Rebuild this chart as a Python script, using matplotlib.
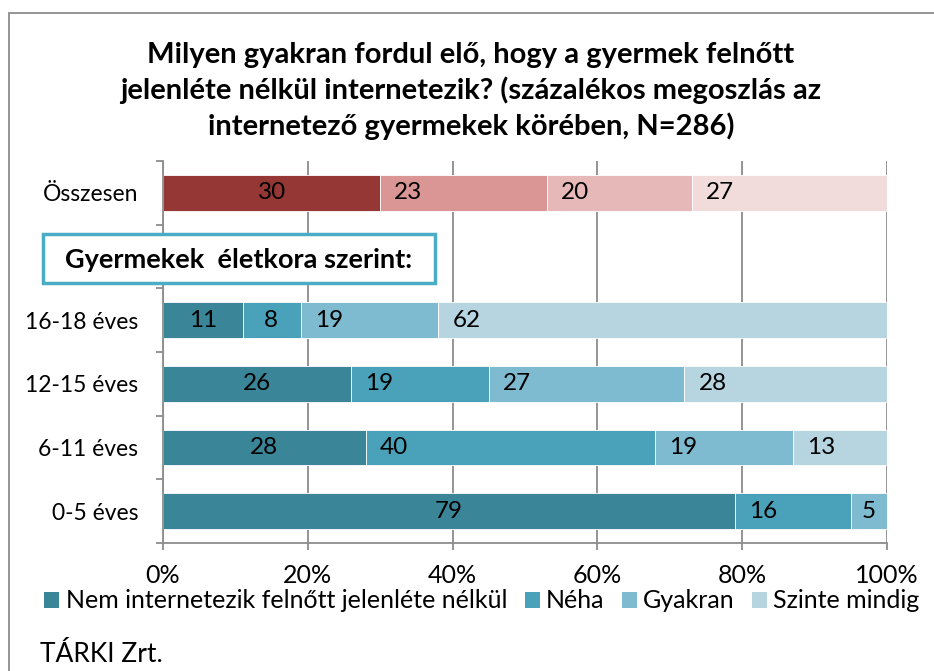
import matplotlib
matplotlib.use('Agg')
import matplotlib.pyplot as plt
from matplotlib.patches import Rectangle

plt.rcParams['font.family'] = ['Lato', 'DejaVu Sans']

# data
categories = ['Összesen', '', '16-18 éves', '12-15 éves', '6-11 éves', '0-5 éves']
series_names = ['Nem internetezik felnőtt jelenléte nélkül', 'Néha', 'Gyakran', 'Szinte mindig']
total_values = [30, 23, 20, 27]
nem_values = [11, 26, 28, 79]
neha_values = [8, 19, 40, 16]
gyakran_values = [19, 27, 19, 5]
szinte_values = [62, 28, 13, 0]
xtick_labels = ['0%', '20%', '40%', '60%', '80%', '100%']

teal_colors = ['#3A8598', '#4AA2BA', '#7EBAD0', '#B7D5E1']
red_colors = ['#953735', '#D99694', '#E6B9B8', '#F2DCDB']

fig = plt.figure(figsize=(9.34, 6.71), dpi=100)
ax = fig.add_axes([163/934, 1 - 543/671, (887 - 163)/934, (543 - 161)/671])

ypos = [5, 4, 3, 2, 1, 0]
bar_h = 0.56
label_off = 3.9


def draw_row(y, vals, colors):
    left = 0
    for i, (v, c) in enumerate(zip(vals, colors)):
        if v > 0:
            ax.barh(y, v, left=left, height=bar_h, color=c, edgecolor='white', linewidth=0.6, zorder=2)
            if i == 0:
                xl = left + v / 2
            else:
                xl = left + min(v / 2, label_off)
            ax.text(xl, y, str(v), ha='center', va='center', fontsize=17.5, color='black', zorder=3)
        left += v


draw_row(ypos[0], total_values, red_colors)
teal_rows = list(zip(nem_values, neha_values, gyakran_values, szinte_values))
for y, vals in zip(ypos[2:], teal_rows):
    draw_row(y, vals, teal_colors)

# legend handles
for name, c in zip(series_names, teal_colors):
    ax.barh([0], [0], color=c, label=name)

ax.set_xlim(0, 100)
ax.set_ylim(-0.5, 5.5)
ax.set_xticks([0, 20, 40, 60, 80, 100])
ax.set_xticklabels(xtick_labels, fontsize=18)
ax.set_yticks(ypos)
ax.set_yticklabels(categories, fontsize=16.5)
ax.set_yticks([y + 0.5 for y in range(-1, 6)], minor=True)
ax.tick_params(axis='y', which='major', length=0, pad=18)
ax.tick_params(axis='y', which='minor', length=5, color='#8C8C8C', width=1.3, direction='out')
ax.tick_params(axis='x', length=5, color='#8C8C8C', width=1.3, direction='out', pad=10)
ax.grid(axis='x', color='#8C8C8C', linewidth=1.3, zorder=0)
ax.set_axisbelow(True)
for s in ['top', 'right']:
    ax.spines[s].set_visible(False)
for s in ['left', 'bottom']:
    ax.spines[s].set_color('#8C8C8C')
    ax.spines[s].set_linewidth(1.3)

# title
fig.text(471/934, 1 - 91/671,
         'Milyen gyakran fordul elő, hogy a gyermek felnőtt\njelenléte nélkül internetezik? (százalékos megoszlás az\ninternetező gyermekek körében, N=286)',
         ha='center', va='center', fontsize=21, fontweight='bold', linespacing=1.38)

# box
fig.patches.append(Rectangle((43/934, 1 - 283/671), (435 - 43)/934, (283 - 234)/671,
                             transform=fig.transFigure, facecolor='white', edgecolor='#4BACC6',
                             linewidth=2.5, zorder=5))
fig.text(239/934, 1 - 260/671, 'Gyermekek  életkora szerint:', ha='center', va='center',
         fontsize=19.5, fontweight='bold', zorder=6)

fig.legend(loc='center', bbox_to_anchor=(482/934, 1 - 601/671), ncol=4, frameon=False,
           fontsize=18, handlelength=0.6, handleheight=0.6, handletextpad=0.25, columnspacing=0.7,
           borderpad=0)

fig.text(40/934, 1 - 655/671, 'TÁRKI Zrt.', ha='left', va='center', fontsize=19)

# outer border
fig.patches.append(Rectangle((9/934, -0.1), 1.0, 1 - 13/671 + 0.1, transform=fig.transFigure,
                             facecolor='none', edgecolor='#8C8C8C', linewidth=1.3))

fig.savefig('out.png', dpi=100)
